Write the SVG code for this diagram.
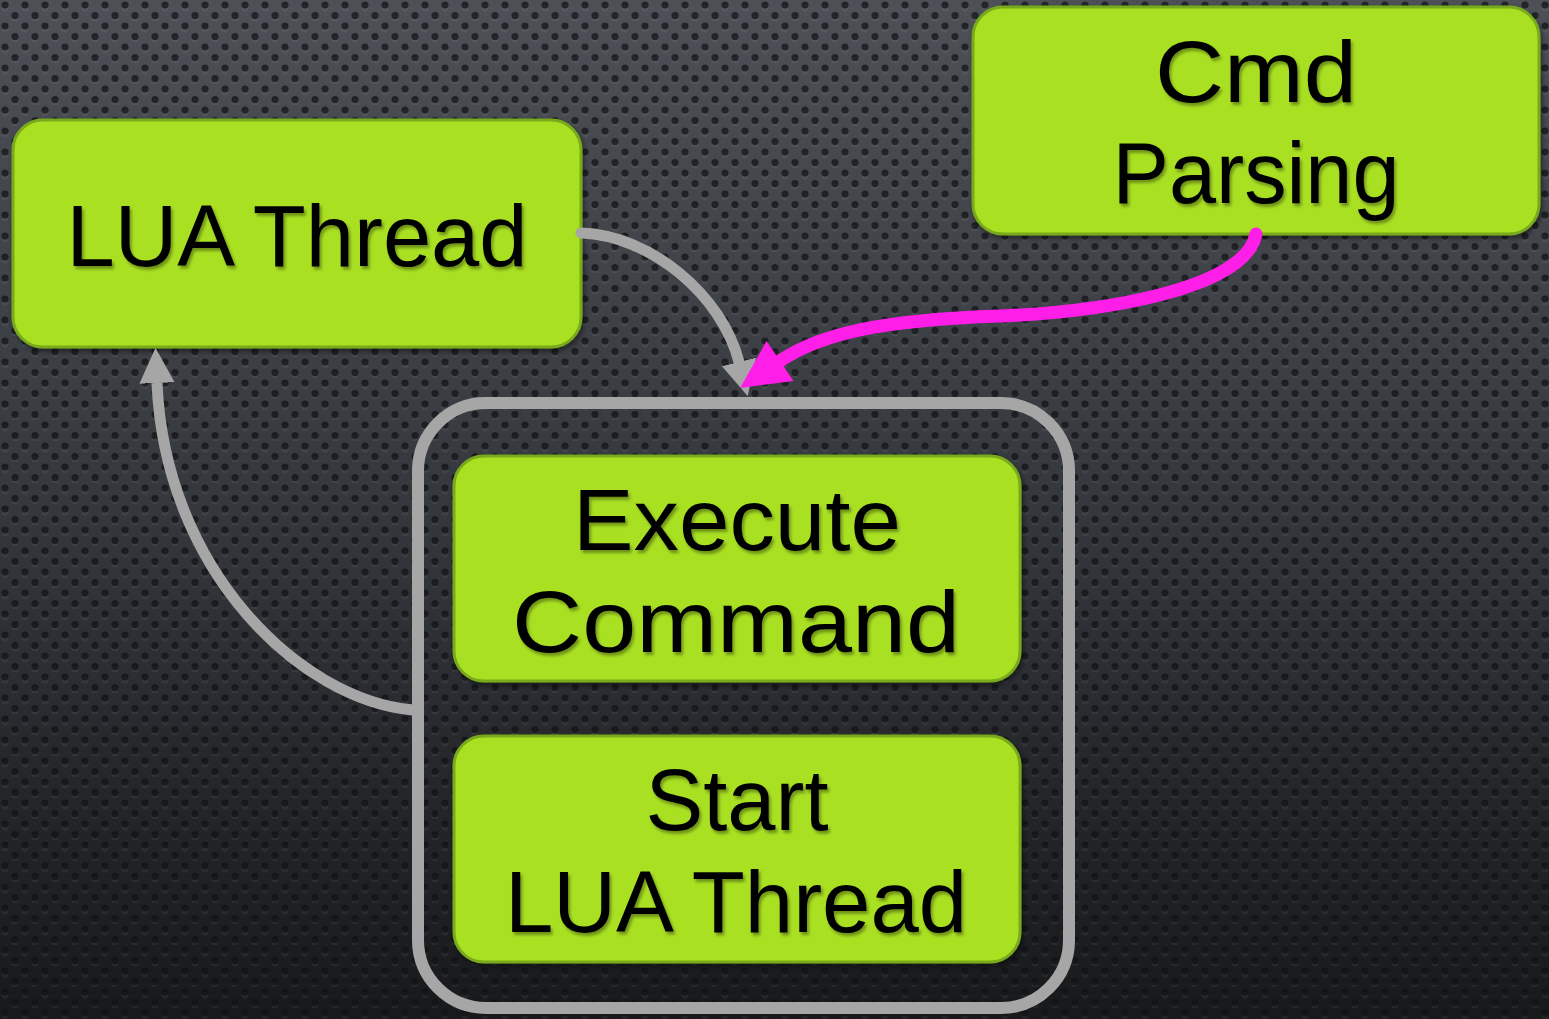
<svg xmlns="http://www.w3.org/2000/svg" width="1549" height="1019" viewBox="0 0 1549 1019">
<defs>
<linearGradient id="bg" x1="0" y1="0" x2="0" y2="1">
<stop offset="0" stop-color="#4d5157"/>
<stop offset="0.5" stop-color="#34373c"/>
<stop offset="1" stop-color="#17191b"/>
</linearGradient>
<pattern id="dots" width="20" height="21" patternUnits="userSpaceOnUse">
<circle cx="5" cy="8" r="3.4" fill="#ffffff" opacity="0.05"/>
<circle cx="15" cy="18.5" r="3.4" fill="#ffffff" opacity="0.05"/>
<circle cx="5" cy="5" r="3.6" fill="#0e1013" opacity="0.7"/>
<circle cx="15" cy="15.5" r="3.6" fill="#0e1013" opacity="0.7"/>
</pattern>
<filter id="sh" x="-10%" y="-10%" width="120%" height="130%">
<feDropShadow dx="2" dy="3" stdDeviation="2.5" flood-color="#000" flood-opacity="0.45"/>
</filter>
<filter id="tsh" x="-5%" y="-5%" width="110%" height="120%">
<feDropShadow dx="2" dy="3" stdDeviation="1.5" flood-color="#000" flood-opacity="0.35"/>
</filter>
<marker id="ag" viewBox="0 0 10 10" refX="0" refY="5" markerWidth="3.2" markerHeight="3.4" orient="auto" markerUnits="strokeWidth">
<path d="M0,0 L10,5 L0,10 z" fill="#a6a6a6"/>
</marker>
<marker id="ap" viewBox="0 0 10 10" refX="0" refY="5" markerWidth="3.9" markerHeight="3.7" orient="auto" markerUnits="strokeWidth">
<path d="M0,0 L10,5 L0,10 z" fill="#ff1ee8"/>
</marker>
</defs>
<style>
.box{fill:#a9e024;stroke:#79a91b;stroke-width:3;filter:url(#sh)}
.lbl{font-family:"Liberation Sans",Arial,sans-serif;font-size:88px;fill:#000;text-anchor:middle;filter:url(#tsh)}
.gc{fill:none;stroke:#a6a6a6;stroke-width:11}
</style>
<rect width="1549" height="1019" fill="url(#bg)"/>
<rect width="1549" height="1019" fill="url(#dots)"/>

<g id="container">
<rect x="418" y="403" width="651" height="605" rx="68" fill="none" stroke="#a6a6a6" stroke-width="12"/>
</g>

<g id="lua-thread">
<rect class="box" x="13" y="120" width="568" height="227" rx="30"/>
<text class="lbl" x="297" y="266" textLength="461" lengthAdjust="spacingAndGlyphs">LUA Thread</text>
</g>

<g id="cmd-parsing">
<rect class="box" x="973" y="7" width="566" height="227" rx="30"/>
<text class="lbl" x="1256" y="102" textLength="202" lengthAdjust="spacingAndGlyphs">Cmd</text>
<text class="lbl" x="1256" y="203" textLength="287" lengthAdjust="spacingAndGlyphs">Parsing</text>
</g>

<g id="execute-command">
<rect class="box" x="454" y="456" width="566" height="225" rx="30"/>
<text class="lbl" x="737" y="550" textLength="328" lengthAdjust="spacingAndGlyphs">Execute</text>
<text class="lbl" x="736" y="652" textLength="448" lengthAdjust="spacingAndGlyphs">Command</text>
</g>

<g id="start-lua-thread">
<rect class="box" x="454" y="736" width="566" height="226" rx="30"/>
<text class="lbl" x="737" y="830" textLength="183" lengthAdjust="spacingAndGlyphs">Start</text>
<text class="lbl" x="736" y="932" textLength="462" lengthAdjust="spacingAndGlyphs">LUA Thread</text>
</g>

<g id="connectors">
<path class="gc" stroke-linecap="round" d="M581,233 C650,235 722,295 739,362" marker-end="url(#ag)"/>
<path fill="none" stroke="#ff1ee8" stroke-width="13" stroke-linecap="round" d="M1256,234 C1245,290 1100,312 1000,316 C880,320 820,334 780,361" marker-end="url(#ap)"/>
<path class="gc" d="M413,710 C300,700 165,570 157,383" marker-end="url(#ag)"/>
</g>
</svg>
